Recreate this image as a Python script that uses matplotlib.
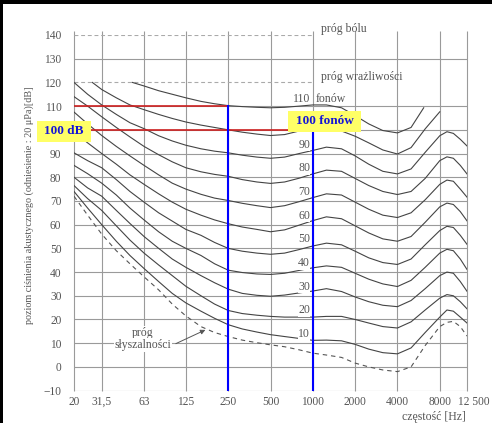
import matplotlib
matplotlib.use('Agg')
import matplotlib.pyplot as plt
import matplotlib.transforms as mtransforms
from matplotlib.patches import Rectangle

plt.rcParams['font.family'] = ['Liberation Serif', 'DejaVu Serif']

freqs = [20, 25, 31.5, 40, 50, 63, 80, 100, 125, 160, 200, 250, 315, 400, 500,
         630, 800, 1000, 1250, 1600, 2000, 2500, 3150, 4000, 5000, 6300, 8000,
         9000, 10000, 11200, 12500]

threshold = [72, 64, 56, 49, 43.5, 38, 32.5, 26.5, 21.5, 17, 14.5, 12.8, 11.3, 10.2, 9.3,
             8.5, 7.2, 5.8, 5, 4, 1.6, 0, -1.3, -2, 0, 9, 17, 18.8, 19.2, 17, 13]
phon_10 = [74, 67, 60, 53, 47, 41.5, 36, 31, 27, 23.5, 20.5, 17.8, 16, 14.7, 13.6,
           12.8, 12, 11.2, 11.3, 11, 9.5, 7.5, 6, 5.5, 8, 14.5, 21, 24, 23.5, 21, 18.5]
phon_20 = [76.5, 71, 66, 59.5, 53.5, 48, 43, 38.5, 34, 30, 26.5, 23.8, 22.5, 21.8, 21.3,
           21, 21, 21, 21.3, 21.3, 20, 18.5, 17, 16.4, 19, 24, 29, 30.5, 30, 27.5, 24.5]
phon_30 = [80, 75.5, 72, 66, 60.5, 55, 50, 45.5, 42, 38.5, 35.5, 32.8, 31, 30.2, 29.8,
           30.3, 31.2, 32, 33, 31.8, 29.5, 27.5, 26, 25.4, 28, 33, 38.5, 40, 39.5, 36, 31.9]
phon_40 = [85, 81.5, 77.5, 72.5, 67, 62, 57, 53, 50, 47, 43.5, 40.8, 39.8, 39.2, 39,
           39.5, 40.7, 41.8, 42.6, 42, 39.5, 37, 35, 33.9, 36.5, 42, 48, 49.6, 49, 45.5, 41.1]
phon_50 = [90.3, 87, 84, 79, 74, 69.5, 65, 61.5, 58, 55.5, 52.5, 50, 48.8, 48, 47.5,
           48, 49.5, 51, 52.2, 51.5, 48.8, 46, 44, 43.2, 45.5, 51.5, 57.5, 59.3, 58.8, 55.5, 51.7]
phon_60 = [99, 94.5, 90, 85.5, 81, 77, 73, 69.5, 66.5, 64, 62, 60.4, 59, 58, 57,
           57.8, 59.8, 61.7, 63.3, 62.5, 59.5, 56.5, 54, 53, 55, 61, 67.5, 69.1, 68.5, 65.5, 61.6]
phon_70 = [107.5, 102.5, 97.6, 93, 89, 85, 81, 77.5, 75, 72.8, 71.2, 70.2, 69, 68, 67.2,
           68, 69.7, 71.4, 73, 72.5, 69.5, 66.5, 64, 63, 65, 70.5, 77, 78.8, 78.3, 75, 71.6]
phon_80 = [114, 110, 105.5, 101, 97, 93, 89.5, 86.5, 84, 82.3, 81.2, 80.4, 79, 78, 77.4,
           78, 79.6, 81.4, 83, 82.5, 79.5, 76.5, 74, 72.7, 74, 79.5, 87, 88.6, 88, 85, 81.4]
phon_90 = [120, 115, 110.5, 106.5, 103, 100.5, 97.5, 95.3, 93.5, 92, 91, 90.3, 89.3, 88.5, 88,
           88.5, 90, 91.3, 92.7, 92, 89, 85.5, 82.5, 81.4, 83.5, 90.5, 97.5, 99.2, 98.5, 96, 93.2]

freqs_100 = [27, 31.5, 40, 50, 63, 80, 100, 125, 160, 200, 250, 315, 400, 500, 630,
             800, 1000, 1250, 1600, 2000, 2500, 3150, 4000, 5000, 6300, 8000]
phon_100 = [120, 117, 113.5, 110.5, 108.5, 106.5, 104.8, 103.3, 102, 101, 100, 99, 98.2, 97.6, 98,
            99.5, 101, 101.8, 99.5, 97.3, 94.5, 91.5, 89.8, 92.5, 100.4, 107.6]

freqs_110 = [52, 63, 80, 100, 125, 160, 200, 250, 315, 400, 500, 630, 800, 1000, 1250,
             1600, 2000, 2500, 3150, 4000, 5000, 6150]
phon_110 = [120, 118.5, 116.5, 115, 113.5, 112, 111, 110.2, 109.8, 109.5, 109.3, 109.5, 110, 110.5, 110.5,
            109.3, 106, 102.5, 99.7, 98.7, 101, 109.3]

phon_levels = [10, 20, 30, 40, 50, 60, 70, 80, 90]
tick_freqs = [20, 31.5, 63, 125, 250, 500, 1000, 2000, 4000, 8000, 12500]
tick_freq_labels = ['20', '31,5', '63', '125', '250', '500', '1000', '2000', '4000', '8000', '12 500']
db_ticks = list(range(-10, 141, 10))

# the worked example: 100 dB at 250 Hz -> 100 phon
example_freqs = [250, 1000]
example_levels = [110, 100]

fig = plt.figure(figsize=(4.92, 4.23), dpi=100)
fig.patch.set_facecolor('white')
ax = fig.add_axes([74 / 492, 1 - 390.6 / 423, 393 / 492, 355.6 / 423])
ax.set_xscale('log')
ax.set_xlim(20, 12500)
ax.set_ylim(-10, 140)
for s in ax.spines.values():
    s.set_visible(False)

grid_c = '#9a9a9a'
for y in db_ticks:
    if y in (120, 140):
        ax.plot([20, 1000], [y, y], color='#aaaaaa', lw=0.8, dashes=(3.5, 2.5))
    else:
        ax.axhline(y, color=grid_c, lw=0.8, zorder=1)
ax.vlines(tick_freqs, -10, 141.5, color=grid_c, lw=0.8, clip_on=False, zorder=1)

curve_c = '#444444'
curves = [phon_10, phon_20, phon_30, phon_40, phon_50, phon_60, phon_70, phon_80, phon_90]
for vals in curves:
    ax.plot(freqs, vals, color=curve_c, lw=0.8, zorder=2)
ax.plot(freqs_100, phon_100, color=curve_c, lw=0.8, zorder=2)
ax.plot(freqs_110, phon_110, color=curve_c, lw=0.8, zorder=2)
ax.plot(freqs, threshold, color='#555555', lw=0.8, dashes=(4, 3.5), zorder=2)

# red / blue reading lines
ax.plot([20, example_freqs[0]], [example_levels[0]] * 2, color='#cc1f1f', lw=1.2, zorder=3)
ax.plot([20, example_freqs[1]], [example_levels[1]] * 2, color='#cc1f1f', lw=1.2, zorder=3)
ax.plot([example_freqs[0]] * 2, [-10, example_levels[0]], color='#0000ff', lw=1.5, zorder=3)
ax.plot([example_freqs[1]] * 2, [-10, example_levels[1]], color='#0000ff', lw=1.5, zorder=3)

ax.set_xticks(tick_freqs, tick_freq_labels)
ax.set_xticks([], minor=True)
# the 100 label sits under the yellow "100 dB" box in the original
ax.set_yticks(db_ticks, ['' if v == 100 else str(v).replace('-', '\u2212') for v in db_ticks])
ax.tick_params(length=0, labelsize=8.3, labelcolor='#555555')
ax.tick_params(axis='x', pad=4)
ax.tick_params(axis='y', pad=9)
last = ax.get_xticklabels()[-1]
last.set_transform(last.get_transform() +
                   mtransforms.ScaledTranslation(7 / 100, 0, fig.dpi_scale_trans))

txt = dict(color='#555555', fontsize=8.5)
for p in phon_levels:
    ax.text(955, p + 3.8, str(p), ha='right', va='center', zorder=4,
            bbox=dict(fc='white', ec='none', pad=0.3), **txt)
ax.text(955, 113, '110', ha='right', va='center', **txt)
ax.text(1045, 113, 'fonów', ha='left', va='center', **txt)
ax.text(1650, 142.5, 'próg bólu', ha='center', va='center', **txt)
ax.text(2240, 122.3, 'próg wrażliwości', ha='center', va='center', **txt)
ax.text(62, 14.3, 'próg', ha='center', va='center', zorder=4,
        bbox=dict(fc='white', ec='none', pad=0.5), **txt)
ax.text(62, 9.2, 'słyszalności', ha='center', va='center', zorder=4,
        bbox=dict(fc='white', ec='none', pad=0.5), **txt)
ax.annotate('', xy=(172, 15.6), xytext=(106, 9.8),
            arrowprops=dict(arrowstyle='-|>', color='#555555', lw=0.7,
                            mutation_scale=7, shrinkA=0, shrinkB=0), zorder=4)

fig.text(29 / 492, 1 - 205 / 423, 'poziom ciśnienia akustycznego (odniesienie : 20 μPa)[dB]',
         rotation=90, ha='center', va='center', color='#555555', fontsize=7.3)
fig.text(434 / 492, 1 - 417 / 423, 'częstość [Hz]', ha='center', va='center',
         color='#555555', fontsize=8.5)

# yellow labels
fig.patches.append(Rectangle((37 / 492, 1 - 142 / 423), 54 / 492, 21 / 423,
                             transform=fig.transFigure, fc='#ffff66', ec='none', zorder=5))
fig.text(64 / 492, 1 - 131.5 / 423, '100 dB', ha='center', va='center', color='#1414d8',
         fontsize=9.5, fontweight='bold', zorder=6)
fig.patches.append(Rectangle((288 / 492, 1 - 132 / 423), 73 / 492, 21 / 423,
                             transform=fig.transFigure, fc='#ffff66', ec='none', zorder=5))
fig.text(324.5 / 492, 1 - 121.5 / 423, '100 fonów', ha='center', va='center', color='#1414d8',
         fontsize=9.5, fontweight='bold', zorder=6)

# scan border
fig.patches.append(Rectangle((0, 1 - 4 / 423), 1, 4 / 423, transform=fig.transFigure,
                             fc='black', ec='none'))
fig.patches.append(Rectangle((0, 0), 3 / 492, 1, transform=fig.transFigure,
                             fc='black', ec='none'))

fig.savefig('out.png', dpi=100)
